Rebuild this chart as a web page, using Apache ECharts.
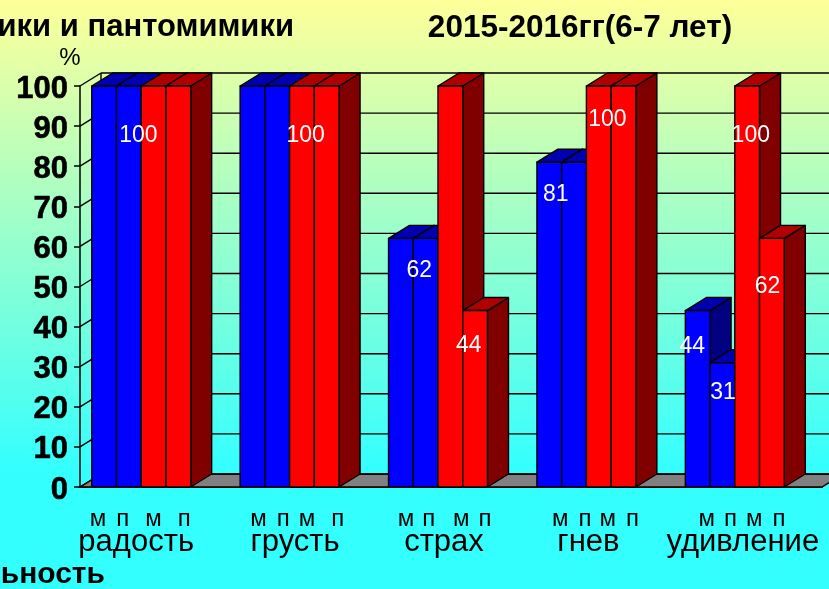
<!DOCTYPE html>
<html>
<head>
<meta charset="utf-8">
<style>html,body{margin:0;padding:0;background:#fff}#c{width:829px;height:589px}</style>
<script src="https://cdn.jsdelivr.net/npm/echarts@6/dist/echarts.min.js"></script>
</head>
<body>
<div id="c"></div>
<script>
const categories = ['радость', 'грусть', 'страх', 'гнев', 'удивление'];
const barTags = ['м', 'п', 'м', 'п'];
const boysMimicry = [100, 100, 62, 81, 44];
const boysPantomime = [100, 100, 62, 81, 31];
const girlsMimicry = [100, 100, 100, 100, 100];
const girlsPantomime = [100, 100, 44, 100, 62];
const yTicks = [0, 10, 20, 30, 40, 50, 60, 70, 80, 90, 100];
const titleLeft = 'мимики и пантомимики';
const titleRight = '2015-2016гг(6-7 лет)';
const unitLabel = '%';
const footerText = 'ьность';

const seriesValues = [boysMimicry, boysPantomime, girlsMimicry, girlsPantomime];
const palette = [
  { front: '#0000ff', top: '#0000b0', side: '#000080' },
  { front: '#0000ff', top: '#0000b0', side: '#000080' },
  { front: '#ff0000', top: '#b00000', side: '#800000' },
  { front: '#ff0000', top: '#b00000', side: '#800000' }
];
const DX = 21, DY = -13, GROUP_SHIFT = -13, STROKE = '#000', SW = 1.4;

// category index, bar index, dx from bar left, dy from bar top
const valueLabels = [
  [0, 1, 22, 50], [1, 2, 16, 50], [2, 1, 6, 32], [2, 3, 6, 35], [3, 1, -6, 32],
  [3, 2, 21, 34], [4, 0, 7, 36], [4, 1, 13, 30], [4, 2, 16, 50], [4, 3, 8, 48]
];
// horizontal shift of the small tags from the bar centres
const tagShift = [
  [-6, -6, 0, 6], [6, 6, 5, 11], [5, 3, 11, 10], [11, 11, 9, 9], [9, 8, 7, 7]
];
const catShift = [36, 15, 14, 22, 10];

function barItem(idx) {
  return function (params, api) {
    const cat = api.value(0), val = api.value(1);
    const base = api.coord([cat, 0]), tip = api.coord([cat, val]);
    const w = api.size([1, 0])[0] / 6;
    const x0 = base[0] + GROUP_SHIFT + (idx - 2) * w, x1 = x0 + w;
    const y0 = base[1], y1 = tip[1];
    const c = palette[idx];
    const st = (f) => ({ fill: f, stroke: STROKE, lineWidth: SW, lineJoin: 'round' });
    return {
      type: 'group',
      children: [
        { type: 'polygon', shape: { points: [[x1, y0], [x1 + DX, y0 + DY], [x1 + DX, y1 + DY], [x1, y1]] }, style: st(c.side) },
        { type: 'polygon', shape: { points: [[x0, y1], [x0 + DX, y1 + DY], [x1 + DX, y1 + DY], [x1, y1]] }, style: st(c.top) },
        { type: 'rect', shape: { x: x0, y: y1, width: w, height: y0 - y1 }, style: st(c.front) }
      ]
    };
  };
}

function wallItem(params, api) {
  const v = api.value(0);
  const p = api.coord([0, v]);
  const g = api.coord([0, 0]);
  const left = g[0] - api.size([1, 0])[0] / 2;
  const y = p[1];
  const line = (a, b, c, d) => ({ type: 'line', shape: { x1: a, y1: b, x2: c, y2: d }, style: { stroke: STROKE, lineWidth: SW } });
  const children = [
    line(left, y, left + DX, y + DY),
    line(left + DX, y + DY, 840, y + DY)
  ];
  if (v === 0) {
    const right = left + api.size([1, 0])[0] * 5;
    children.unshift({
      type: 'polygon',
      shape: { points: [[left, y], [left + DX, y + DY], [right + DX, y + DY], [right, y]] },
      style: { fill: '#808080', stroke: STROKE, lineWidth: SW }
    });
    const top = api.coord([0, 100])[1];
    children.push(line(left + DX, y + DY, left + DX, top + DY));
  }
  return { type: 'group', children };
}

function valueLabelItem(params, api) {
  const cat = api.value(0), bar = api.value(1), val = api.value(2), dx = api.value(3), dy = api.value(4);
  const w = api.size([1, 0])[0] / 6;
  const base = api.coord([cat, val]);
  return {
    type: 'text',
    style: {
      text: String(val), x: base[0] + GROUP_SHIFT + (bar - 2) * w + dx, y: base[1] + dy,
      fill: '#fff', font: '23px "Liberation Sans", Arial, sans-serif', align: 'center', verticalAlign: 'middle'
    }
  };
}

function tagItem(params, api) {
  const cat = api.value(0), bar = api.value(1);
  const w = api.size([1, 0])[0] / 6;
  const base = api.coord([cat, 0]);
  return {
    type: 'text',
    style: {
      text: barTags[bar], x: base[0] + GROUP_SHIFT + (bar - 1.5) * w + tagShift[cat][bar], y: base[1] + 32,
      fill: '#000', font: '24px "Liberation Sans", Arial, sans-serif', align: 'center', verticalAlign: 'middle'
    }
  };
}

const tagData = [];
categories.forEach((_, c) => barTags.forEach((_, b) => tagData.push([c, b])));

const option = {
  animation: false,
  backgroundColor: {
    type: 'linear', x: 0, y: 0, x2: 0, y2: 1,
    colorStops: [{ offset: 0, color: '#ffff99' }, { offset: 0.8, color: '#33ffff' }, { offset: 1, color: '#33ffff' }]
  },
  grid: { left: 80, top: 86, width: 742, height: 401, containLabel: false },
  xAxis: {
    type: 'category',
    data: categories.map((name, i) => ({ value: name, textStyle: { padding: [0, catShift[i], 0, 0] } })),
    axisLine: { show: true, lineStyle: { color: '#000', width: 2 } },
    axisTick: { show: false },
    axisLabel: {
      interval: 0, margin: 40, color: '#000', fontSize: 31,
      fontFamily: '"Liberation Sans", Arial, sans-serif'
    }
  },
  yAxis: {
    type: 'value', min: 0, max: 100, interval: 10,
    splitLine: { show: false },
    axisLine: { show: true, lineStyle: { color: '#000', width: 1.5 } },
    axisTick: { show: true, length: 6, lineStyle: { color: '#000', width: 1.5 } },
    axisLabel: {
      margin: 12,
      formatter: (v) => (yTicks.includes(v) ? '{t|' + v + '}' : ''),
      rich: {
        t: {
          color: '#000', fontSize: 31, fontWeight: 'bold',
          textBorderColor: '#000', textBorderWidth: 0.6, padding: [6, 0, 0, 0],
          fontFamily: '"Liberation Sans", Arial, sans-serif'
        }
      }
    }
  },
  graphic: [
    { type: 'text', z: 50, style: { text: titleLeft, x: 294, y: 27, align: 'right', verticalAlign: 'middle', fill: '#000', font: 'bold 31px "Liberation Sans", Arial, sans-serif' } },
    { type: 'text', z: 50, style: { text: titleRight, x: 580, y: 28, align: 'center', verticalAlign: 'middle', fill: '#000', font: 'bold 31.5px "Liberation Sans", Arial, sans-serif' } },
    { type: 'text', z: 50, style: { text: unitLabel, x: 70, y: 58, align: 'center', verticalAlign: 'middle', fill: '#000', font: '24px "Liberation Sans", Arial, sans-serif' } },
    { type: 'text', z: 50, style: { text: footerText, x: 105, y: 575, align: 'right', verticalAlign: 'middle', fill: '#000', font: 'bold 30px "Liberation Sans", Arial, sans-serif' } }
  ],
  series: [
    {
      type: 'custom', name: 'walls', coordinateSystem: 'cartesian2d', z: 1, silent: true,
      renderItem: wallItem, encode: { y: 0 }, data: yTicks.map((t) => [t]), clip: false
    },
    ...seriesValues.map((vals, idx) => ({
      type: 'custom', name: 'bar' + idx, coordinateSystem: 'cartesian2d', z: 2 + idx, silent: true,
      renderItem: barItem(idx), encode: { x: 0, y: 1 },
      data: vals.map((v, c) => [c, v]), clip: false
    })),
    {
      type: 'custom', name: 'values', coordinateSystem: 'cartesian2d', z: 10, silent: true,
      renderItem: valueLabelItem,
      data: valueLabels.map(([c, b, dx, dy]) => [c, b, seriesValues[b][c], dx, dy]),
      encode: { x: 0, y: 2 }, clip: false
    },
    {
      type: 'custom', name: 'tags', coordinateSystem: 'cartesian2d', z: 10, silent: true,
      renderItem: tagItem, data: tagData, encode: { x: 0 }, clip: false
    }
  ]
};
const chart = echarts.init(document.getElementById('c'), null, { renderer: 'canvas' });
chart.setOption(option);
</script>
</body>
</html>
